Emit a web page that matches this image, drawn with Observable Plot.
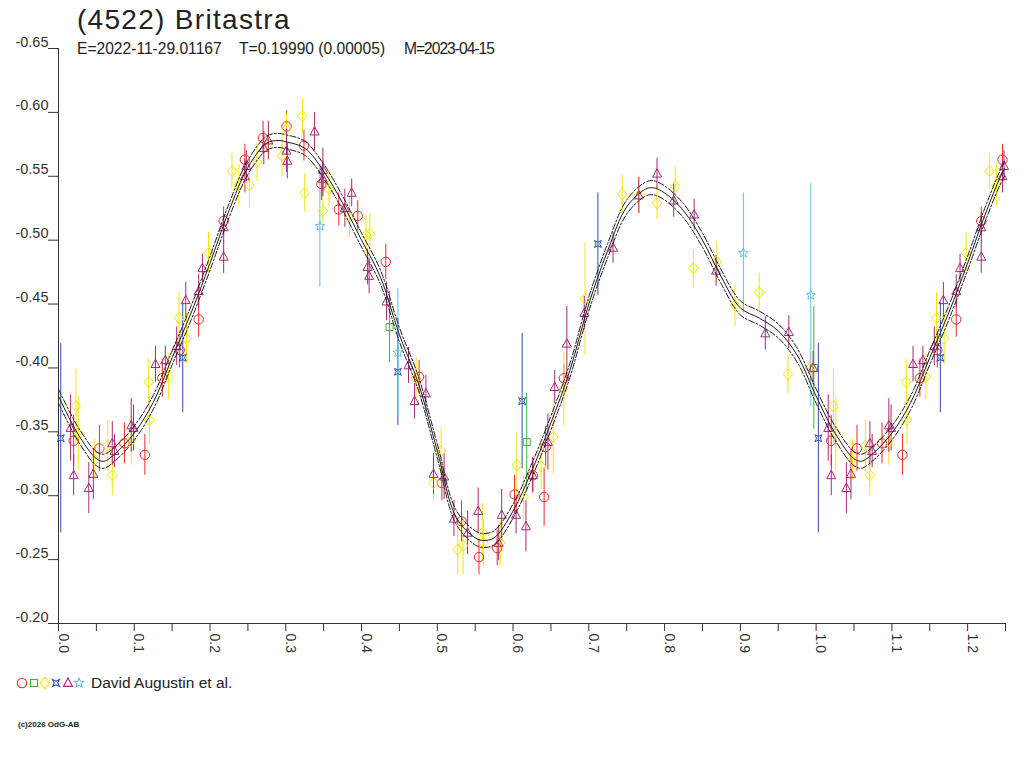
<!DOCTYPE html>
<html><head><meta charset="utf-8">
<script src="https://cdn.jsdelivr.net/npm/d3@7"></script>
<script src="https://cdn.jsdelivr.net/npm/@observablehq/plot@0.6"></script>
<style>
body{margin:0;background:#fff;font-family:"Liberation Sans",Arial,sans-serif;color:#222}
#wrap{position:relative;width:1024px;height:768px;overflow:hidden;background:#fff}
.abs{position:absolute;white-space:pre;line-height:1}
</style></head><body><div id="wrap"></div>
<script>
// ---- data (phase, reduced magnitude, error) ----
const titleText = "(4522) Britastra";
const subE = "E=2022-11-29.01167";
const subT = "T=0.19990 (0.00005)";
const subM = "M=2023-04-15";
const legendText = "David Augustin et al.";
const copyright = "(c)2026 OdG-AB";

const yTicks = [-0.65,-0.60,-0.55,-0.50,-0.45,-0.40,-0.35,-0.30,-0.25,-0.20];
const xTicks = [0,0.05,0.1,0.15,0.2,0.25,0.3,0.35,0.4,0.45,0.5,0.55,0.6,0.65,0.7,0.75,0.8,0.85,0.9,0.95,1.0,1.05,1.1,1.15,1.2,1.25];
const xLabels = [0,0.1,0.2,0.3,0.4,0.5,0.6,0.7,0.8,0.9,1.0,1.1,1.2];

const fitPhase = [0,0.025,0.05,0.06,0.075,0.1,0.125,0.15,0.175,0.2,0.225,0.25,0.275,0.29,0.3,0.325,0.35,0.375,0.4,0.425,0.45,0.475,0.5,0.525,0.55,0.56,0.575,0.6,0.625,0.65,0.675,0.7,0.725,0.75,0.775,0.785,0.8,0.825,0.85,0.875,0.9,0.925,0.95,0.975,1.0];
const fitMag = [-0.378,-0.349,-0.329,-0.327,-0.333,-0.349,-0.373,-0.408,-0.443,-0.482,-0.523,-0.557,-0.576,-0.578,-0.577,-0.572,-0.554,-0.529,-0.500,-0.471,-0.426,-0.388,-0.335,-0.283,-0.267,-0.265,-0.267,-0.288,-0.320,-0.357,-0.398,-0.450,-0.492,-0.526,-0.540,-0.541,-0.537,-0.523,-0.500,-0.471,-0.447,-0.439,-0.429,-0.410,-0.378];
const fitSigma = 0.0055;

const redObs = [[0.020,-0.343,0.020],[0.054,-0.337,0.018],[0.087,-0.341,0.016],[0.114,-0.332,0.016],[0.137,-0.392,0.015],[0.160,-0.414,0.014],[0.185,-0.438,0.014],[0.218,-0.515,0.011],[0.246,-0.563,0.012],[0.270,-0.580,0.013],[0.301,-0.589,0.012],[0.324,-0.574,0.012],[0.347,-0.544,0.013],[0.370,-0.524,0.013],[0.395,-0.519,0.012],[0.432,-0.483,0.014],[0.476,-0.393,0.013],[0.506,-0.310,0.014],[0.532,-0.280,0.016],[0.555,-0.252,0.014],[0.579,-0.259,0.014],[0.602,-0.301,0.015],[0.626,-0.316,0.013],[0.641,-0.299,0.023],[0.643,-0.338,0.016],[0.667,-0.392,0.011]];
const greenObs = [[0.437,-0.432,0.028],[0.618,-0.342,0.038],[0.997,-0.400,0.048]];
const yellowObs = [[0.023,-0.370,0.029],[0.026,-0.349,0.029],[0.048,-0.328,0.016],[0.065,-0.339,0.020],[0.071,-0.316,0.016],[0.096,-0.343,0.019],[0.120,-0.359,0.019],[0.119,-0.389,0.018],[0.145,-0.393,0.018],[0.159,-0.439,0.020],[0.169,-0.423,0.020],[0.198,-0.490,0.016],[0.229,-0.554,0.014],[0.238,-0.543,0.016],[0.252,-0.543,0.018],[0.262,-0.561,0.015],[0.277,-0.576,0.014],[0.295,-0.566,0.016],[0.301,-0.587,0.012],[0.322,-0.597,0.014],[0.325,-0.537,0.015],[0.349,-0.523,0.016],[0.357,-0.540,0.014],[0.384,-0.518,0.016],[0.406,-0.504,0.015],[0.411,-0.505,0.016],[0.472,-0.392,0.016],[0.505,-0.335,0.018],[0.495,-0.310,0.014],[0.527,-0.258,0.020],[0.534,-0.261,0.023],[0.560,-0.271,0.023],[0.561,-0.263,0.018],[0.583,-0.263,0.018],[0.605,-0.324,0.025],[0.614,-0.299,0.018],[0.637,-0.323,0.018],[0.653,-0.346,0.029],[0.667,-0.384,0.029],[0.695,-0.454,0.044],[0.744,-0.536,0.015],[0.766,-0.535,0.015],[0.790,-0.529,0.013],[0.814,-0.542,0.015],[0.838,-0.478,0.015],[0.869,-0.483,0.016],[0.893,-0.449,0.016],[0.925,-0.459,0.015],[0.963,-0.395,0.015],[0.992,-0.400,0.012]];
const blueObs = [[0.003,-0.345,0.074],[0.164,-0.408,0.043],[0.448,-0.397,0.042],[0.612,-0.374,0.053],[0.712,-0.497,0.040]];
const purpleObs = [[0.016,-0.353,0.026],[0.020,-0.316,0.016],[0.040,-0.306,0.020],[0.046,-0.317,0.020],[0.071,-0.341,0.017],[0.074,-0.335,0.013],[0.096,-0.355,0.021],[0.099,-0.353,0.018],[0.128,-0.403,0.014],[0.141,-0.406,0.011],[0.156,-0.417,0.015],[0.168,-0.453,0.014],[0.185,-0.460,0.013],[0.190,-0.478,0.011],[0.218,-0.510,0.011],[0.218,-0.487,0.013],[0.246,-0.550,0.013],[0.248,-0.558,0.012],[0.271,-0.572,0.013],[0.277,-0.578,0.015],[0.301,-0.570,0.017],[0.302,-0.562,0.014],[0.338,-0.585,0.015],[0.349,-0.555,0.017],[0.349,-0.548,0.014],[0.378,-0.525,0.015],[0.387,-0.537,0.011],[0.408,-0.479,0.014],[0.410,-0.472,0.014],[0.433,-0.452,0.015],[0.462,-0.402,0.014],[0.470,-0.374,0.014],[0.485,-0.380,0.014],[0.495,-0.317,0.016],[0.509,-0.315,0.018],[0.522,-0.282,0.014],[0.540,-0.271,0.017],[0.554,-0.288,0.018],[0.581,-0.263,0.014],[0.585,-0.285,0.020],[0.604,-0.285,0.015],[0.617,-0.276,0.020],[0.626,-0.316,0.014],[0.646,-0.342,0.022],[0.655,-0.385,0.013],[0.671,-0.419,0.029],[0.694,-0.443,0.013],[0.732,-0.494,0.012],[0.766,-0.535,0.014],[0.790,-0.552,0.012],[0.812,-0.531,0.013],[0.839,-0.520,0.012],[0.868,-0.476,0.012],[0.933,-0.427,0.013],[0.964,-0.428,0.013],[0.996,-0.400,0.013]];
const cyanObs = [[0.345,-0.511,0.048],[0.448,-0.412,0.050],[0.904,-0.490,0.047],[0.993,-0.457,0.087]];

// ---- custom symbols (nominal r = 5) ----
function poly(ctx, pts, k){ ctx.moveTo(pts[0][0]*k, pts[0][1]*k); for (let i=1;i<pts.length;i++) ctx.lineTo(pts[i][0]*k, pts[i][1]*k); ctx.closePath(); }
const kOf = size => Math.sqrt(size/Math.PI)/5;
const symCircle = {draw(ctx,size){ const r=4.7*kOf(size); ctx.moveTo(r,0); ctx.arc(0,0,r,0,2*Math.PI); }};
const symSquare = {draw(ctx,size){ poly(ctx,[[-3.5,-3.5],[3.5,-3.5],[3.5,3.5],[-3.5,3.5]],kOf(size)); }};
const symDiamond = {draw(ctx,size){ poly(ctx,[[0,-5.6],[4.8,0],[0,5.6],[-4.8,0]],kOf(size)); }};
const symBow = {draw(ctx,size){ const s=3.5,n=1.7; poly(ctx,[[-s,-s],[0,-s+n],[s,-s],[s-n,0],[s,s],[0,s-n],[-s,s],[-s+n,0]],kOf(size)); }};
const symTri = {draw(ctx,size){ poly(ctx,[[0,-5],[4.5,3.4],[-4.5,3.4]],kOf(size)); }};
const symStar = {draw(ctx,size){ const pts=[]; for(let i=0;i<10;i++){ const a=-Math.PI/2+i*Math.PI/5, rr=i%2?2.2:5.0; pts.push([rr*Math.cos(a), rr*Math.sin(a)]);} poly(ctx,pts,kOf(size)); }};

const series = [
  {data: redObs, color: "#ee2a2a", symbol: symCircle},
  {data: greenObs, color: "#3cb43c", symbol: symSquare},
  {data: yellowObs, color: "#f6e600", symbol: symDiamond},
  {data: blueObs, color: "#2f4fa8", symbol: symBow},
  {data: purpleObs, color: "#a8287c", symbol: symTri},
  {data: cyanObs, color: "#5cc4dc", symbol: symStar}
];

// phased light curve: phases below 0.25 are repeated after 1.0
const toRows = arr => arr.map(([p,m,e]) => ({phase:p, mag:m, err:e}));
const repeatPhase = rows => rows.concat(rows.filter(d => d.phase < 0.25).map(d => ({...d, phase: d.phase + 1})));
const fitRows = fitPhase.map((p,i) => ({phase:p, mag:fitMag[i]}));
const fitExt = fitRows.concat(fitRows.filter(d => d.phase > 0 && d.phase <= 0.3).map(d => ({...d, phase: d.phase + 1})));

const marks = [
  Plot.axisY(yTicks, {tickSize: 10, tickFormat: () => "", stroke: "#333"}),
  Plot.axisX(xTicks, {tickSize: 8, tickFormat: () => "", stroke: "#333"}),
  Plot.ruleX([0], {stroke: "#333"}),
  Plot.ruleY([-0.2], {stroke: "#333"}),
  Plot.text(yTicks, {y: d => d, frameAnchor: "left", text: d => d.toFixed(2), textAnchor: "end", lineAnchor: "bottom", dx: -10, dy: -2, fontSize: 14.5, fill: "#333"}),
  Plot.text(xLabels, {x: d => d, frameAnchor: "bottom", text: d => d.toFixed(1), rotate: 90, textAnchor: "start", lineAnchor: "bottom", dy: 10, fontSize: 14, fill: "#333"})
];
for (const s of series) {
  marks.push(Plot.ruleX(repeatPhase(toRows(s.data)), {x: "phase", y1: d => d.mag - d.err, y2: d => d.mag + d.err, stroke: s.color, strokeWidth: 1}));
}
for (const s of series) {
  marks.push(Plot.dot(repeatPhase(toRows(s.data)), {x: "phase", y: "mag", symbol: s.symbol, r: 5, stroke: s.color, fill: "none", strokeWidth: 1}));
}
marks.push(Plot.line(fitExt, {x: "phase", y: "mag", stroke: "#1a1a1a", strokeWidth: 1, curve: "catmull-rom", clip: true}));
marks.push(Plot.line(fitExt, {x: "phase", y: d => d.mag - fitSigma, stroke: "#1a1a1a", strokeWidth: 1, strokeDasharray: "6,2,2,2", curve: "catmull-rom", clip: true}));
marks.push(Plot.line(fitExt, {x: "phase", y: d => d.mag + fitSigma, stroke: "#1a1a1a", strokeWidth: 1, strokeDasharray: "6,2,2,2", curve: "catmull-rom", clip: true}));

const chart = Plot.plot({
  width: 1024, height: 768,
  marginTop: 48, marginBottom: 145, marginLeft: 58, marginRight: 19,
  x: {domain: [0, 1.25], label: null},
  y: {domain: [-0.2, -0.65], label: null},
  style: {fontFamily: "'Liberation Sans', Arial, sans-serif", fontSize: "14px", background: "white", color: "#333"},
  marks
});
const wrap = document.getElementById("wrap");
wrap.appendChild(chart);

function addText(txt, left, top, size, extra){
  const d = document.createElement("div");
  d.className = "abs"; d.textContent = txt;
  d.style.left = left + "px"; d.style.top = top + "px"; d.style.fontSize = size + "px";
  if (extra) Object.assign(d.style, extra);
  wrap.appendChild(d);
}
addText(titleText, 77, 6, 28, {letterSpacing: "1.3px", color: "#222"});
addText(subE, 77, 41, 15.6, {color: "#222"});
addText(subT, 239, 41, 15.6, {color: "#222"});
addText(subM, 404, 41, 15.6, {color: "#222", letterSpacing: "-1px"});
addText(legendText, 91, 675, 15.5, {color: "#222"});
addText(copyright, 18, 721, 8, {color: "#222", fontWeight: "bold"});

// legend symbols
const ns = "http://www.w3.org/2000/svg";
const lg = document.createElementNS(ns, "svg");
lg.setAttribute("width", 90); lg.setAttribute("height", 26);
lg.style.position = "absolute"; lg.style.left = "0px"; lg.style.top = "670px";
const legendX = [22, 34, 45, 56, 68, 79];
series.forEach((s, i) => {
  const p = document.createElementNS(ns, "path");
  p.setAttribute("d", d3.symbol(s.symbol, 25 * Math.PI)());
  p.setAttribute("transform", `translate(${legendX[i]},13)`);
  p.setAttribute("fill", "none"); p.setAttribute("stroke", s.color); p.setAttribute("stroke-width", 1.1);
  lg.appendChild(p);
});
wrap.appendChild(lg);
</script></body></html>
